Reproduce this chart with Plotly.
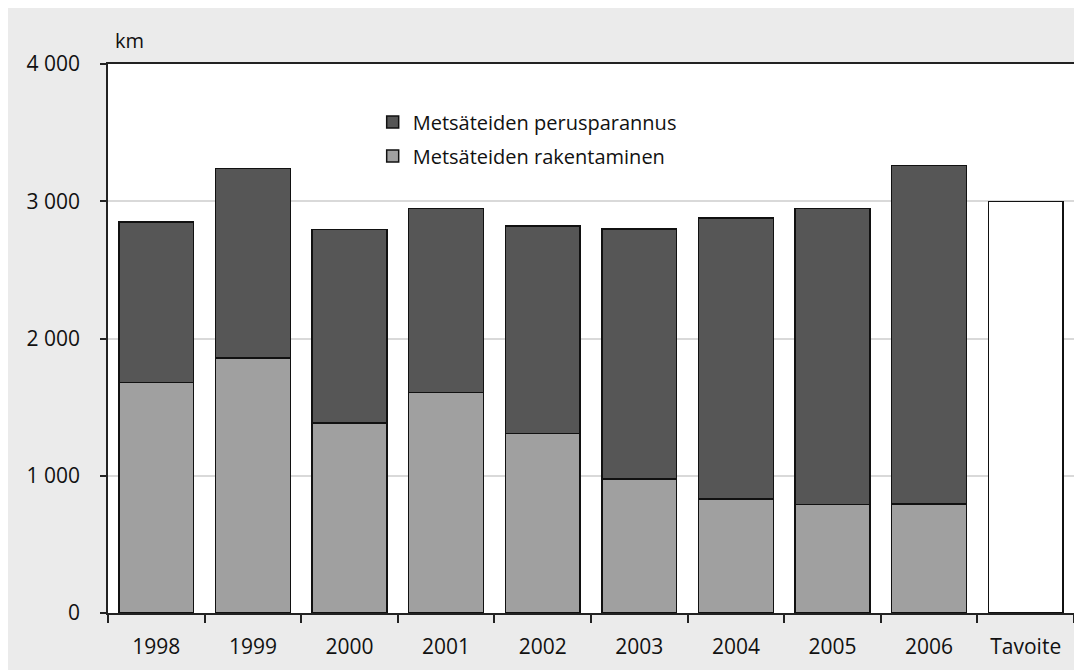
import plotly.graph_objects as go

years = ["1998", "1999", "2000", "2001", "2002", "2003", "2004", "2005", "2006"]
rakentaminen = [1679, 1858, 1385, 1606, 1308, 977, 830, 791, 794]
perusparannus = [1170, 1380, 1411, 1341, 1510, 1822, 2049, 2156, 2468]
target_label = ["Tavoite"]
target_value = [3000]
categories = years + target_label

FONT = "Open Sans"
fig = go.Figure()
fig.add_trace(go.Bar(
    x=years, y=rakentaminen, name="Metsäteiden rakentaminen",
    legendgroup="a", legendrank=2,
    marker=dict(color="#a0a0a0", line=dict(color="#111111", width=1.5)),
))
fig.add_trace(go.Bar(
    x=years, y=perusparannus, name="Metsäteiden perusparannus",
    legendgroup="b", legendrank=1,
    marker=dict(color="#565656", line=dict(color="#111111", width=1.5)),
))
fig.add_trace(go.Bar(
    x=target_label, y=target_value, name="Tavoite", showlegend=False,
    legendgroup="c", legendrank=3,
    marker=dict(color="#ffffff", line=dict(color="#111111", width=1.5)),
))

fig.update_layout(
    width=1074, height=662,
    margin=dict(l=100, r=6, t=55.5, b=56.5),
    paper_bgcolor="#ebebeb",
    plot_bgcolor="#ffffff",
    barmode="stack",
    bargap=0.225,
    separators=", ",
    font=dict(family=FONT, size=21, color="#111111"),
    showlegend=True,
    legend=dict(
        x=0.274, y=0.93, xanchor="left", yanchor="top",
        traceorder="grouped", bgcolor="rgba(0,0,0,0)",
        font=dict(family=FONT, size=20, color="#111111"),
        itemwidth=30, tracegroupgap=5,
    ),
    xaxis=dict(
        categoryorder="array", categoryarray=categories,
        showline=True, linecolor="#222222", linewidth=1.5, mirror=True,
        ticks="outside", ticklen=8, tickcolor="#222222", tickwidth=1.5,
        tickson="boundaries", ticklabelstandoff=14,
        showgrid=False,
    ),
    yaxis=dict(
        range=[0, 4000], dtick=1000, tickformat=",d",
        showline=True, linecolor="#222222", linewidth=1.5, mirror=True,
        ticks="outside", ticklen=6, tickcolor="#222222", tickwidth=1.5,
        ticklabelstandoff=16,
        showgrid=True, gridcolor="#d9d9d9", gridwidth=1.5,
        zeroline=False,
    ),
    annotations=[
        dict(text="km", xref="paper", yref="paper", x=0.005, y=(613.5 - 40) / 550,
             xanchor="left", yanchor="middle", showarrow=False,
             font=dict(family=FONT, size=20, color="#111111")),
    ],
)

fig.write_html("out.html")
